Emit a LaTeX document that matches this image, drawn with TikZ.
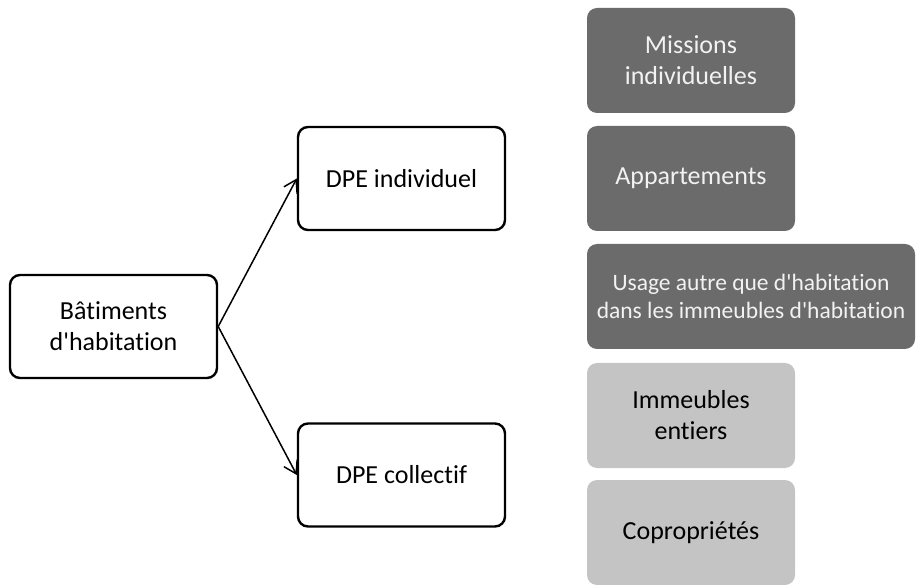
\documentclass[tikz,border=0pt]{standalone}
\usepackage{fontspec}
\setmainfont{Carlito}[Ligatures={TeXOff,NoCommon}]
\usetikzlibrary{arrows.meta}
\definecolor{darkbox}{HTML}{6B6B6B}
\definecolor{lightbox}{HTML}{C4C4C4}
\definecolor{lighttext}{HTML}{F2F2F2}
\begin{document}
\begin{tikzpicture}[x=1pt,y=-1pt,
  outlined/.style={draw=black,line width=2.4pt,rounded corners=10pt,fill=white,
    minimum width=207pt,minimum height=103pt,align=center,inner sep=0pt,
    font=\fontsize{26}{31}\selectfont},
  darktile/.style={fill=darkbox,rounded corners=10pt,minimum height=105pt,
    align=center,inner sep=0pt,text=lighttext,font=\fontsize{26}{31}\selectfont},
  lighttile/.style={fill=lightbox,rounded corners=10pt,minimum width=208pt,
    minimum height=105pt,align=center,inner sep=0pt,text=black,
    font=\fontsize{26}{31}\selectfont},
  link/.style={line width=1.5pt,-{Straight Barb[length=12pt,width=15pt,line width=1.5pt]}}]
  \useasboundingbox (0,0) rectangle (916,585);

  % left tree
  \node[outlined] (bat) at (113.5,326.5) {Bâtiments\\d'habitation};
  \node[outlined] (ind) at (401.5,178.5) {DPE individuel};
  \node[outlined] (col) at (401.5,475) {DPE collectif};

  \draw[link] (bat.east) -- (ind.west);
  \draw[link] (bat.east) -- (col.west);

  % right column of categories
  \node[darktile,minimum width=208pt] (mis) at (691,60.5) {Missions\\individuelles};
  \node[darktile,minimum width=208pt] (app) at (691,178.5) {Appartements};
  \node[darktile,minimum width=328pt,font=\fontsize{23.5}{28}\selectfont]
    (usa) at (751,296.5) {Usage autre que d'habitation\\dans les immeubles d'habitation};
  \node[lighttile] (imm) at (691,415.5) {Immeubles\\entiers};
  \node[lighttile] (cop) at (691,532.5) {Copropriétés};
\end{tikzpicture}
\end{document}
